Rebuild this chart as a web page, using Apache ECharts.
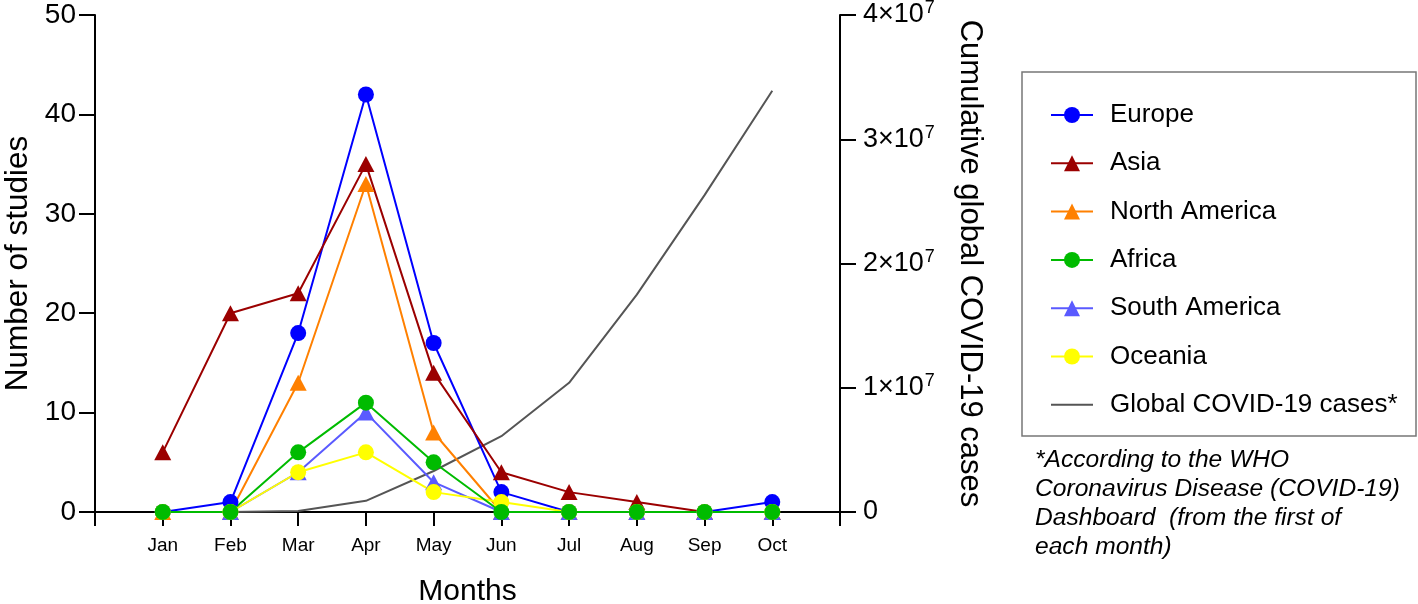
<!DOCTYPE html>
<html>
<head>
<meta charset="utf-8">
<script src="https://cdn.jsdelivr.net/npm/echarts@6/dist/echarts.min.js"></script>
<style>html,body{margin:0;padding:0;background:#fff}#c{width:1418px;height:604px}</style>
</head>
<body>
<div id="c"></div>
<script>
const months = ['Jan','Feb','Mar','Apr','May','Jun','Jul','Aug','Sep','Oct'];
const europe = [0, 1, 18, 42, 17, 2, 0, 0, 0, 1];
const asia = [6, 20, 22, 35, 14, 4, 2, 1, 0, 0];
const northAmerica = [0, 0, 13, 33, 8, 0, 0, 0, 0, 0];
const africa = [0, 0, 6, 11, 5, 0, 0, 0, 0, 0];
const southAmerica = [null, 0, 4, 10, 3, 0, 0, 0, 0, 0];
const oceania = [0, 0, 4, 6, 2, 1, 0, 0, 0, 0];
const globalCases = [null, 10000, 87000, 900000, 3300000, 6100000, 10400000, 17500000, 25500000, 33900000];
const leftTicks = [0, 10, 20, 30, 40, 50];
const rightTicks = [0, 1e7, 2e7, 3e7, 4e7];

const FONT = 'Liberation Sans, Arial, sans-serif';
const pad = arr => [null].concat(arr, [null]);
const cats = [''].concat(months, ['']);

function lineSeries(name, data, color, symbol, size) {
  return {
    name, type: 'line', data: pad(data), yAxisIndex: 0,
    symbol, symbolSize: size, showSymbol: true,
    lineStyle: {color, width: 2}, itemStyle: {color},
    connectNulls: false, animation: false
  };
}

const chart = echarts.init(document.getElementById('c'));
chart.setOption({
  animation: false,
  grid: {left: 95, right: 578, top: 15, bottom: 92, containLabel: false, outerBoundsMode: 'none'},
  xAxis: {
    type: 'category', data: cats, boundaryGap: false,
    name: 'Months', nameLocation: 'middle', nameGap: 65,
    nameTextStyle: {fontFamily: FONT, fontSize: 30, color: '#000'},
    axisLine: {lineStyle: {color: '#000', width: 2}},
    axisTick: {length: 14, lineStyle: {color: '#000', width: 2}, interval: 0},
    axisLabel: {fontFamily: FONT, fontSize: 19, color: '#000', margin: 24, interval: 0},
    splitLine: {show: false}
  },
  yAxis: [{
    type: 'value', min: leftTicks[0], max: leftTicks[leftTicks.length-1], interval: 10,
    name: 'Number of studies', nameLocation: 'middle', nameGap: 61, nameRotate: 90,
    nameTextStyle: {fontFamily: FONT, fontSize: 31.5, color: '#000'},
    axisLine: {show: true, lineStyle: {color: '#000', width: 2}},
    axisTick: {show: true, length: 16, lineStyle: {color: '#000', width: 2}},
    axisLabel: {fontFamily: FONT, fontSize: 28, color: '#000', margin: 19},
    splitLine: {show: false}
  }, {
    type: 'value', min: rightTicks[0], max: rightTicks[rightTicks.length-1], interval: 1e7,
    position: 'right',
    name: 'Cumulative global COVID-19 cases', nameLocation: 'middle', nameGap: 114, nameRotate: -90,
    nameTextStyle: {fontFamily: FONT, fontSize: 31, color: '#000'},
    axisLine: {show: true, lineStyle: {color: '#000', width: 2}},
    axisTick: {show: true, length: 16, lineStyle: {color: '#000', width: 2}},
    axisLabel: {
      margin: 23, color: '#000',
      formatter: v => v === 0 ? '{a|0}' : '{a|' + (v/1e7) + '×10}{b|7}',
      rich: {
        a: {fontFamily: FONT, fontSize: 27, color: '#000'},
        b: {fontFamily: FONT, fontSize: 18, color: '#000', padding: [0, 0, 13, 1]}
      }
    },
    splitLine: {show: false}
  }],
  legend: {
    orient: 'vertical', left: 1045, top: 97,
    itemWidth: 42, itemHeight: 20, itemGap: 22.3,
    data: ['Europe','Asia','North America','Africa','South America','Oceania',
      {name: 'Global COVID-19 cases*', icon: 'path://M0,0L42,0L42,2L0,2Z', itemStyle: {color: '#555'}}],
    textStyle: {fontFamily: FONT, fontSize: 26, color: '#000', padding: [0, 0, 0, 12]}
  },
  graphic: [{
    type: 'rect', shape: {x: 1022, y: 72, width: 394, height: 364},
    style: {fill: 'none', stroke: '#777', lineWidth: 1.5}, silent: true
  }, {
    type: 'text', left: 1035, top: 446,
    style: {
      text: '*According to the WHO\nCoronavirus Disease (COVID-19)\nDashboard  (from the first of\neach month)',
      fontFamily: FONT, fontSize: 24.6, fontStyle: 'italic', lineHeight: 29, fill: '#000'
    }
  }],
  series: [
    {
      name: 'Global COVID-19 cases*', type: 'line', data: pad(globalCases), yAxisIndex: 1,
      symbol: 'none', lineStyle: {color: '#555', width: 2}, itemStyle: {color: '#555'}
    },
    lineSeries('Europe', europe, '#0000ff', 'circle', 16),
    lineSeries('Asia', asia, '#9b0000', 'triangle', [17, 16]),
    lineSeries('North America', northAmerica, '#ff8000', 'triangle', [17, 16]),
    lineSeries('South America', southAmerica, '#5a5aff', 'triangle', [17, 16]),
    lineSeries('Oceania', oceania, '#ffff00', 'circle', 16),
    lineSeries('Africa', africa, '#00bb00', 'circle', 16)
  ]
});
</script>
</body>
</html>
